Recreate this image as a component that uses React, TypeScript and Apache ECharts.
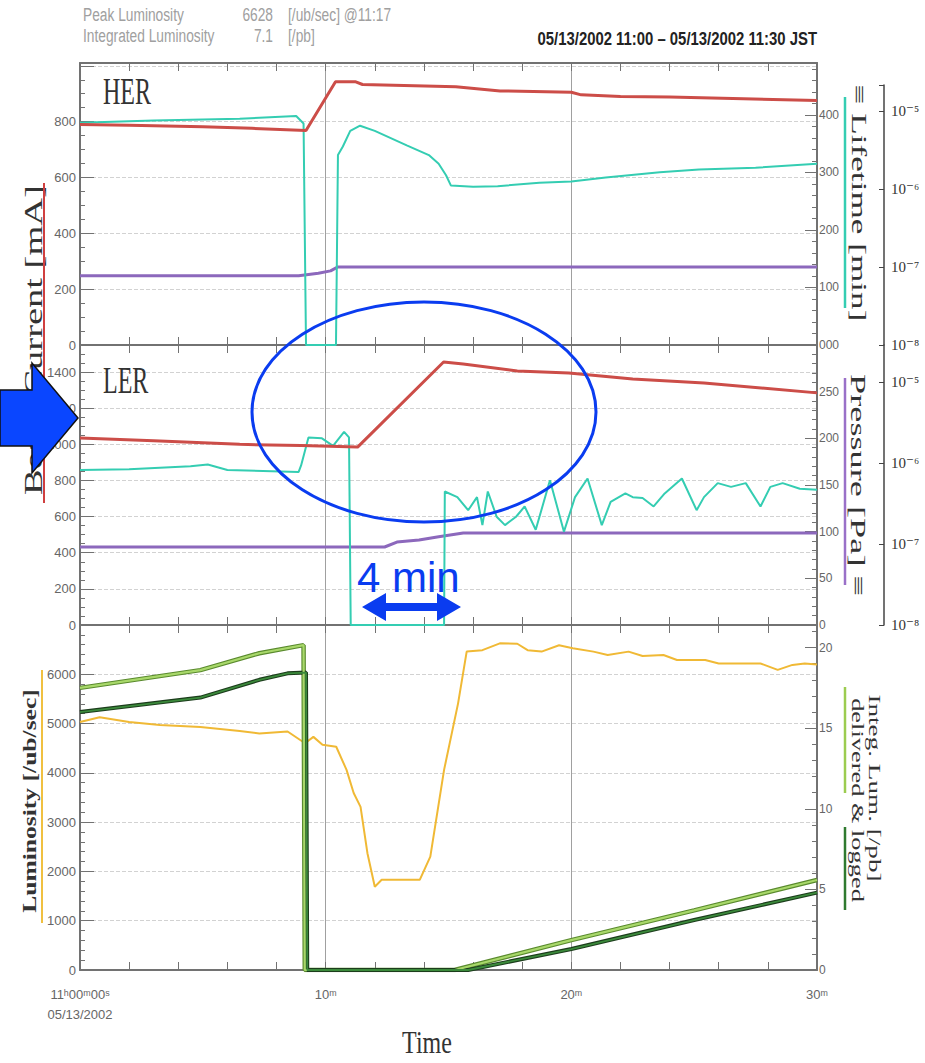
import React, { useEffect, useRef } from 'react';
import * as echarts from 'echarts';

// ---------- data (time in minutes after 11:00) ----------
const herCurrent: [number, number][] = [
  [0, 790], [2, 787], [5, 782], [7, 776], [9.2, 768], [10.4, 943], [11.2, 943], [11.5, 933],
  [15.3, 925], [17.1, 910], [20, 905], [20.4, 896], [22, 890], [24, 888], [27, 882], [30, 876],
];
const herLifetime: [number, number][] = [
  [0, 386], [3, 390], [6.5, 393], [8.8, 398], [9.1, 385], [9.2, 0], [10.42, 0], [10.5, 330],
  [10.7, 345], [11.0, 372], [11.4, 381], [12, 372], [13.3, 347], [14.2, 330], [14.6, 315],
  [14.9, 295], [15.1, 277], [16, 275], [17, 276], [18.7, 282], [20, 284], [21.4, 291],
  [23.6, 300], [25.2, 305], [27.5, 308], [30, 315],
];
const herPressure: [number, number][] = [
  [0, 7.7e-8], [8.9, 7.7e-8], [9.7, 8.3e-8], [10.2, 8.9e-8], [10.5, 1.0e-7], [30, 1.0e-7],
];
const lerCurrent: [number, number][] = [
  [0, 1035], [3, 1020], [6.5, 1000], [9, 993], [11.3, 985], [14.8, 1456], [15.6, 1445],
  [17.8, 1406], [19.9, 1395], [22.5, 1362], [25.4, 1340], [30, 1285],
];
const lerLifetime: [number, number][] = [
  [0, 166], [2, 167], [4.5, 170], [5.2, 172], [6, 166], [8.9, 164], [9.0, 171], [9.3, 201],
  [9.85, 200], [10.3, 192], [10.75, 207], [10.95, 201], [11.02, 0], [14.82, 0], [14.85, 143],
  [15.36, 137], [15.8, 123], [16.16, 137], [16.38, 107], [16.6, 143], [16.96, 116], [17.3, 107],
  [17.75, 116], [18.1, 127], [18.55, 102], [19.13, 155], [19.7, 100], [20.15, 137], [20.66, 157],
  [21.24, 107], [21.6, 132], [22.2, 141], [22.5, 137], [22.9, 136], [23.35, 127], [23.8, 141],
  [24.5, 157], [25.1, 123], [25.4, 137], [25.96, 152], [26.5, 148], [27.1, 152], [27.7, 127],
  [28.1, 148], [28.6, 152], [29.3, 146], [30, 145],
];
const lerPressure: [number, number][] = [
  [0, 9.2e-8], [12.4, 9.2e-8], [12.9, 1.06e-7], [13.8, 1.12e-7], [14.6, 1.23e-7],
  [15.6, 1.37e-7], [30, 1.37e-7],
];
const luminosity: [number, number][] = [
  [0, 5030], [0.8, 5130], [2, 5030], [3.25, 4970], [4.9, 4930], [6.5, 4850], [7.3, 4800],
  [8.45, 4840], [9.16, 4600], [9.5, 4730], [9.87, 4570], [10.43, 4530], [10.85, 4060],
  [11.14, 3590], [11.42, 3310], [11.7, 2370], [12.0, 1690], [12.28, 1830], [13.83, 1830],
  [14.26, 2300], [14.82, 4060], [15.39, 5410], [15.74, 6460], [16.38, 6490], [17.09, 6628],
  [17.8, 6620], [18.22, 6490], [18.79, 6460], [19.5, 6590], [20.06, 6530], [20.9, 6460],
  [21.48, 6390], [22.33, 6460], [22.9, 6370], [23.75, 6390], [24.3, 6290], [25.45, 6290],
  [26.0, 6220], [27.7, 6220], [28.4, 6090], [29.0, 6190], [29.5, 6220], [30, 6200],
];
const intDelivered: [number, number][] = [
  [0, 17.5], [4.9, 18.6], [7.3, 19.65], [9.1, 20.15], [9.15, 0], [15.25, 0], [20, 1.85],
  [25, 3.7], [30, 5.58],
];
const intLogged: [number, number][] = [
  [0, 16.0], [4.9, 16.9], [7.3, 18.0], [8.45, 18.4], [9.2, 18.45], [9.25, 0], [15.8, 0],
  [20, 1.3], [25, 3.1], [30, 4.8],
];

const xTickLabels = ['11ʰ00ᵐ00ˢ\n05/13/2002', '10ᵐ', '20ᵐ', '30ᵐ'];
const logTickLabels = ['10⁻⁸', '10⁻⁷', '10⁻⁶', '10⁻⁵'];

// ---------- styling ----------
const AX = '#727272';
const NARROW = '"Liberation Sans Narrow","Liberation Sans",Arial,sans-serif';
const SERIF = '"Liberation Serif","DejaVu Serif","Times New Roman",serif';
const SANS = '"Liberation Sans",Arial,sans-serif';
const BLUE = '#0a3cf0';

const GL = 80;
const GR = 108;

function xAxisBottom(gridIndex: number, labels: boolean) {
  return {
    type: 'value', gridIndex, position: 'bottom', min: 0, max: 30, interval: 2,
    axisLine: { show: true, onZero: false, lineStyle: { color: AX, width: 2 } },
    axisTick: { show: true, inside: true, length: 8, lineStyle: { color: AX } },
    axisLabel: {
      show: labels, margin: 14, color: '#666', fontFamily: NARROW, fontSize: 13, lineHeight: 20,
      formatter: (v: number) => (v % 10 === 0 ? xTickLabels[v / 10] : ''),
    },
    splitLine: { show: false },
  };
}
function xAxisTop(gridIndex: number) {
  return {
    type: 'value', gridIndex, position: 'top', min: 0, max: 30, interval: 2,
    axisLine: { show: true, onZero: false, lineStyle: { color: AX, width: 2 } },
    axisTick: { show: true, inside: true, length: 8, lineStyle: { color: AX } },
    axisLabel: { show: false },
    splitLine: { show: false },
  };
}
function xAxisSplit(gridIndex: number) {
  return {
    type: 'value', gridIndex, position: 'bottom', min: 0, max: 30, interval: 10,
    axisLine: { show: false, onZero: false }, axisTick: { show: false }, axisLabel: { show: false },
    splitLine: { show: true, lineStyle: { color: '#a0a0a0', width: 1 } },
  };
}
function yLeft(gridIndex: number, max: number, interval: number, hideFrom: number, minor: number) {
  return {
    type: 'value', gridIndex, position: 'left', min: 0, max, interval,
    axisLine: { show: true, onZero: false, lineStyle: { color: AX, width: 2 } },
    axisTick: { show: true, inside: true, length: 14, lineStyle: { color: AX } },
    minorTick: { show: true, splitNumber: minor, length: 5, lineStyle: { color: AX } },
    axisLabel: {
      margin: 4, color: '#666', fontFamily: NARROW, fontSize: 13,
      formatter: (v: number) => (v % interval === 0 && v < hideFrom ? String(v) : ''),
    },
    splitLine: { show: true, lineStyle: { color: '#d2d2d2', type: 'dashed', width: 1 } },
  };
}
function yRight(gridIndex: number, max: number, interval: number, hideFrom: number, minor: number, pad: boolean) {
  return {
    type: 'value', gridIndex, position: 'right', min: 0, max, interval,
    axisLine: { show: true, onZero: false, lineStyle: { color: AX, width: 2 } },
    axisTick: { show: true, inside: true, length: 12, lineStyle: { color: AX } },
    minorTick: { show: true, splitNumber: minor, length: 5, lineStyle: { color: AX } },
    axisLabel: {
      margin: 2, color: '#666', fontFamily: NARROW, fontSize: 12,
      formatter: (v: number) =>
        v % interval === 0 && v < hideFrom ? (pad ? String(v).padStart(3, '0') : String(v)) : '',
    },
    splitLine: { show: false },
  };
}
function yLog(gridIndex: number, max: number) {
  return {
    type: 'value', gridIndex, position: 'right', offset: 67, min: -8, max, interval: 1,
    axisLine: { show: true, onZero: false, lineStyle: { color: '#444', width: 1.5 } },
    axisTick: { show: true, inside: true, length: 5, lineStyle: { color: '#444' } },
    axisLabel: {
      margin: 7, color: '#333', fontFamily: SERIF, fontSize: 15,
      formatter: (v: number) => (Number.isInteger(v) ? logTickLabels[v + 8] : ''),
    },
    splitLine: { show: false },
  };
}
function line(data: number[][], xi: number, yi: number, color: string, width: number, z = 3) {
  return {
    type: 'line', data, xAxisIndex: xi, yAxisIndex: yi, showSymbol: false, symbol: 'none',
    lineStyle: { color, width }, itemStyle: { color }, clip: true, z, silent: true,
  };
}
const toLog = (d: [number, number][]) => d.map(([t, p]) => [t, Math.log10(p)]);

function rotText(text: string, x: number, y: number, rot: number, size: number, sx: number, weight = 'normal') {
  return {
    type: 'text', x, y, rotation: rot, scaleX: sx, z: 50,
    style: { text, fontFamily: SERIF, fontSize: size, fontWeight: weight, fill: '#333', align: 'center', verticalAlign: 'middle' },
  };
}
function vline(x: number, y1: number, y2: number, color: string, w = 2) {
  return { type: 'line', z: 50, shape: { x1: x, y1, x2: x, y2 }, style: { stroke: color, lineWidth: w } };
}
function headText(text: string, x: number, y: number, align = 'left') {
  return {
    type: 'text', x, y, scaleX: 0.86, scaleY: 1.1, z: 50,
    style: { text, fontFamily: NARROW, fontSize: 16, fill: '#a0a0a0', align, verticalAlign: 'middle' },
  };
}

export default function App() {
  const ref = useRef<HTMLDivElement>(null);
  useEffect(() => {
    document.body.style.margin = '0';
    if (!ref.current) return;
    const chart = echarts.init(ref.current, undefined, { renderer: 'svg' });
    const option: any = {
      animation: false,
      backgroundColor: '#ffffff',
      grid: [
        { left: GL, right: GR, top: 63, height: 282 },
        { left: GL, right: GR, top: 85, height: 260 },
        { left: GL, right: GR, top: 345, height: 280 },
        { left: GL, right: GR, top: 625, height: 345 },
      ],
      xAxis: [
        xAxisBottom(0, false), xAxisTop(0), xAxisSplit(0),
        { type: 'value', gridIndex: 1, min: 0, max: 30, show: false },
        xAxisBottom(2, false), xAxisTop(2), xAxisSplit(2),
        xAxisBottom(3, true), xAxisTop(3), xAxisSplit(3),
      ],
      yAxis: [
        yLeft(0, 1010, 200, 1000, 4),
        yRight(0, 490, 100, 450, 5, true),
        yLog(1, -4.67),
        yLeft(2, 1550, 200, 1500, 4),
        yRight(2, 300, 50, 300, 5, false),
        yLog(2, -4.54),
        yLeft(3, 7000, 1000, 7000, 5),
        yRight(3, 21.4, 5, 21, 5, false),
      ],
      series: [
        line(toLog(herPressure), 3, 2, '#8c68bc', 3),
        line(herLifetime, 0, 1, '#34cdb2', 2),
        line(herCurrent, 0, 0, '#cc4d48', 3),
        line(toLog(lerPressure), 4, 5, '#8c68bc', 3),
        line(lerLifetime, 4, 4, '#34cdb2', 2),
        line(lerCurrent, 4, 3, '#cc4d48', 3),
        line(luminosity, 7, 6, '#f0b935', 2),
        line(intDelivered, 7, 7, '#5a8a2e', 4.5, 3),
        line(intDelivered, 7, 7, '#a8d86a', 2.2, 4),
        line(intLogged, 7, 7, '#1c3d1c', 4, 3),
        line(intLogged, 7, 7, '#3b8a3b', 1.8, 4),
      ],
      graphic: [
        // header
        headText('Peak Luminosity', 83, 15),
        headText('6628', 273, 15, 'right'),
        headText('[/ub/sec] @11:17', 288, 15),
        headText('Integrated Luminosity', 83, 36),
        headText('7.1', 273, 36, 'right'),
        headText('[/pb]', 288, 36),
        { type: 'text', x: 817, y: 39, scaleX: 0.93, scaleY: 1.15, z: 50, style: { text: '05/13/2002 11:00 – 05/13/2002 11:30 JST', fontFamily: NARROW, fontSize: 16, fontWeight: 'bold', fill: '#222', align: 'right', verticalAlign: 'middle' } },
        // panel names
        { type: 'text', x: 103, y: 91, scaleY: 1.6, z: 50, style: { text: 'HER', fontFamily: SERIF, fontSize: 24, fill: '#333', verticalAlign: 'middle' } },
        { type: 'text', x: 103, y: 380, scaleY: 1.6, z: 50, style: { text: 'LER', fontFamily: SERIF, fontSize: 24, fill: '#333', verticalAlign: 'middle' } },
        // left titles
        rotText('Beam Current [mA]', 33, 340, Math.PI / 2, 26, 1.48),
        vline(44, 183, 503, '#d04040'),
        rotText('Luminosity [/ub/sec]', 30, 801, Math.PI / 2, 18, 1.42, 'bold'),
        vline(42, 670, 923, '#f0c040'),
        // right titles
        rotText('≡ Lifetime [min]', 859, 203, -Math.PI / 2, 22, 1.6),
        vline(845, 97, 308, '#34cdb2', 2.5),
        rotText('Pressure [Pa] ≡', 859, 485, -Math.PI / 2, 22, 1.65),
        vline(845, 378, 585, '#9a70c8', 2.5),
        rotText('Integ. Lum. [/pb]', 874, 788, -Math.PI / 2, 16, 1.7),
        rotText('delivered & logged', 857, 800, -Math.PI / 2, 16, 1.65),
        vline(845, 687, 793, '#9ccc50', 2.5),
        vline(845, 827, 910, '#2f7a2f', 2.5),
        // x title
        { type: 'text', x: 427, y: 1042, scaleY: 1.3, z: 50, style: { text: 'Time', fontFamily: SERIF, fontSize: 24, fill: '#333', align: 'center', verticalAlign: 'middle' } },
        // annotations
        { type: 'ellipse', z: 60, shape: { cx: 424, cy: 412, rx: 172, ry: 110 }, style: { fill: 'none', stroke: BLUE, lineWidth: 3 } },
        { type: 'polygon', z: 60, shape: { points: [[0, 390], [32, 390], [32, 363], [78, 418], [32, 473], [32, 446], [0, 446]] }, style: { fill: '#0a46ff', stroke: '#111', lineWidth: 1.5 } },
        { type: 'text', x: 357, y: 577, z: 60, style: { text: '4 min', fontFamily: SANS, fontSize: 42, fill: BLUE, verticalAlign: 'middle' } },
        { type: 'polygon', z: 60, shape: { points: [[362, 607], [386, 593], [386, 603], [437, 603], [437, 593], [461, 607], [437, 621], [437, 611], [386, 611], [386, 621]] }, style: { fill: BLUE } },
      ],
    };
    chart.setOption(option);
    return () => chart.dispose();
  }, []);
  return <div ref={ref} style={{ width: 925, height: 1063 }} />;
}
